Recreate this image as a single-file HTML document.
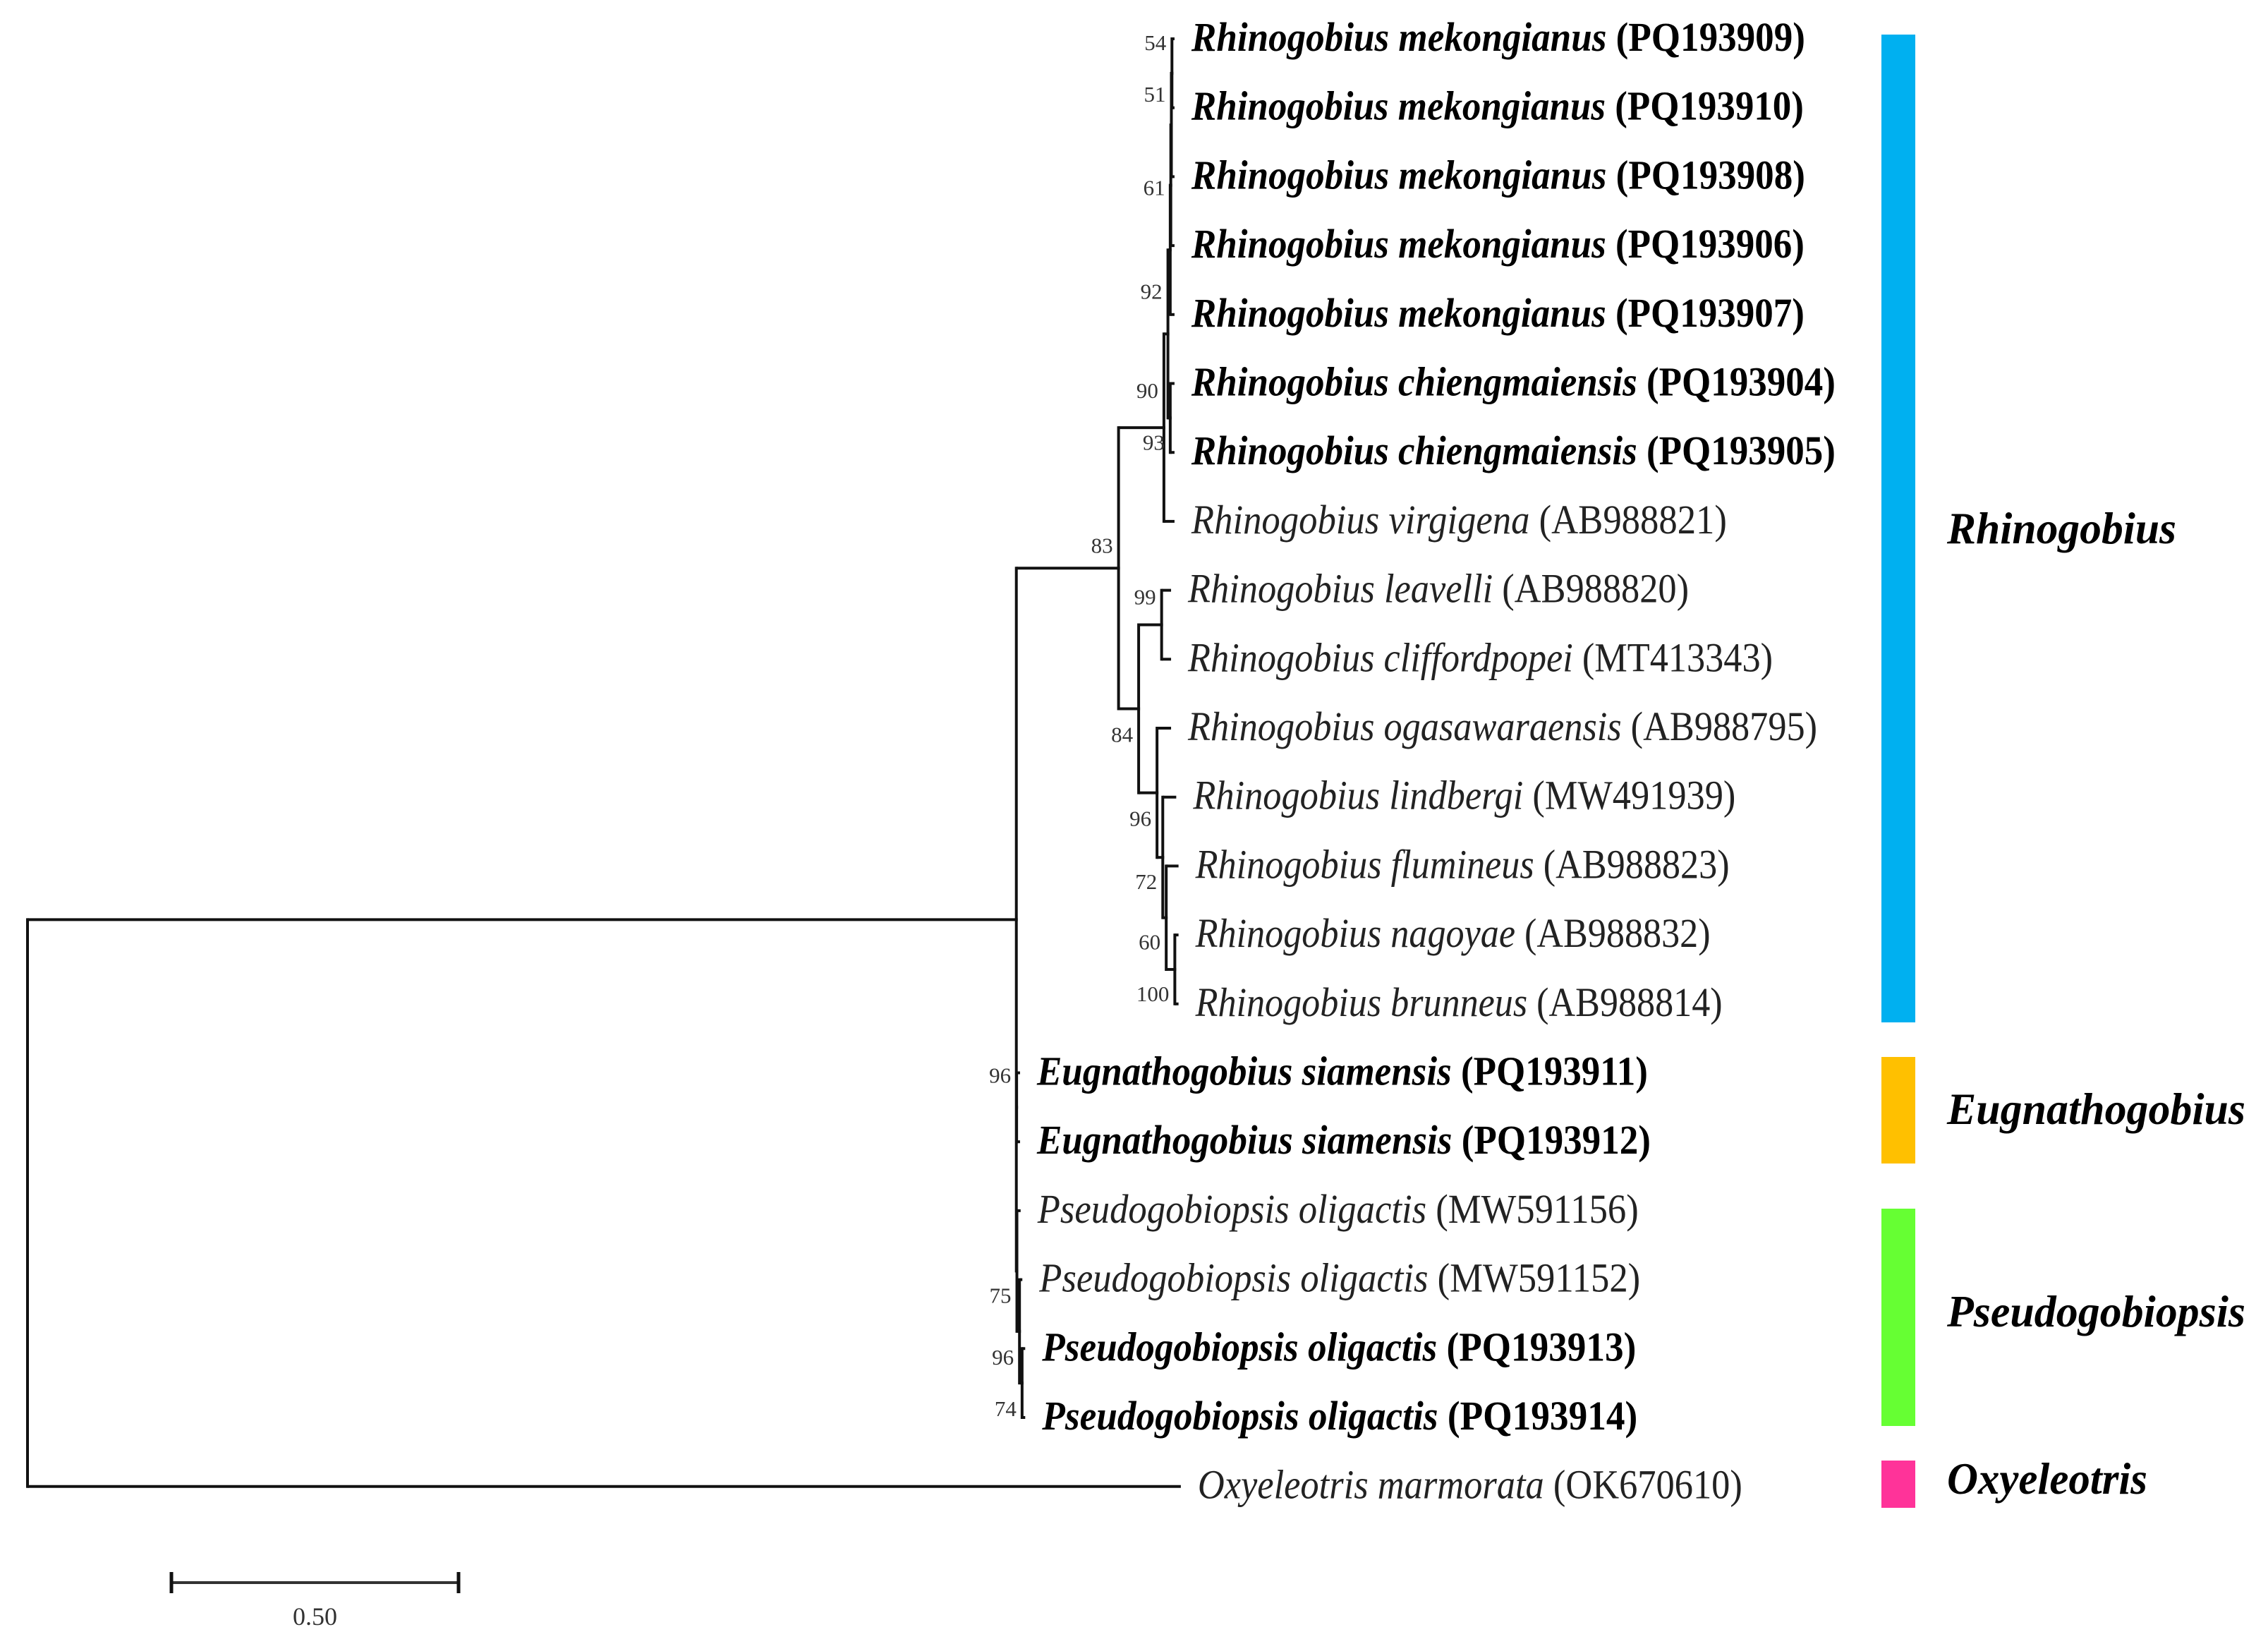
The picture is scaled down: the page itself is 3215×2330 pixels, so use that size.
<!DOCTYPE html>
<html><head><meta charset="utf-8"><style>
html,body{margin:0;padding:0;background:#fff;}
svg{display:block;}
text{font-family:"Liberation Serif","DejaVu Serif",serif;}
</style></head><body>
<svg id="chart" width="3215" height="2330" viewBox="0 0 3215 2330" xmlns="http://www.w3.org/2000/svg">
<g id="branches"></g>
<g id="boots"></g>
<g id="tips"></g>
<g id="groups"></g>
<g id="scalebar"></g>
</svg>
<script>
// ---- data ----
const tipSpecies = ["Rhinogobius mekongianus","Rhinogobius mekongianus","Rhinogobius mekongianus","Rhinogobius mekongianus","Rhinogobius mekongianus","Rhinogobius chiengmaiensis","Rhinogobius chiengmaiensis","Rhinogobius virgigena","Rhinogobius leavelli","Rhinogobius cliffordpopei","Rhinogobius ogasawaraensis","Rhinogobius lindbergi","Rhinogobius flumineus","Rhinogobius nagoyae","Rhinogobius brunneus","Eugnathogobius siamensis","Eugnathogobius siamensis","Pseudogobiopsis oligactis","Pseudogobiopsis oligactis","Pseudogobiopsis oligactis","Pseudogobiopsis oligactis","Oxyeleotris marmorata"];
const tipAccessions = ["PQ193909","PQ193910","PQ193908","PQ193906","PQ193907","PQ193904","PQ193905","AB988821","AB988820","MT413343","AB988795","MW491939","AB988823","AB988832","AB988814","PQ193911","PQ193912","MW591156","MW591152","PQ193913","PQ193914","OK670610"];
const tipBold = [1,1,1,1,1,1,1,0,0,0,0,0,0,0,0,1,1,0,0,1,1,0];
const nodeIds    = ["root","T","oxy","R","U","K","A4","A3","A2","A1","t0","t1","t2","t3","t4","C","t5","t6","t7","L","LC","t8","t9","M","t10","N","t11","O","t12","P","t13","t14","E","t15","t16","PS","t17","PS2","t18","PS3","t19","t20"];
const nodeParent = ["","root","root","T","R","U","K","A4","A3","A2","A1","A1","A2","A3","A4","K","C","C","U","R","L","LC","LC","L","M","M","N","N","O","O","P","P","T","E","E","T","PS","PS","PS2","PS2","PS3","PS3"];
const nodeDepth  = [0,1.722,2.006,1.900,1.979,1.986,1.990,1.991,1.992,1.993,1.995,1.995,1.995,1.995,1.995,1.990,1.995,1.995,1.995,1.935,1.975,1.989,1.989,1.967,1.989,1.977,1.998,1.983,2.002,1.998,2.002,2.002,1.7225,1.726,1.726,1.723,1.727,1.7275,1.730,1.732,1.735,1.735];
const nodeTip    = [-1,-1,21,-1,-1,-1,-1,-1,-1,-1,0,1,2,3,4,-1,5,6,7,-1,-1,8,9,-1,10,-1,11,-1,12,-1,13,14,-1,15,16,-1,17,-1,18,-1,19,20];
const nodeBoot   = ["","","","83","90","92","","61","51","54","","","","","","93","","","","84","99","","","96","","72","","60","","100","","","96","","","75","","96","","74","",""];
const groupNames = ["Rhinogobius","Eugnathogobius","Pseudogobiopsis","Oxyeleotris"];
const groupColors = ["#00b0f0","#ffc000","#66ff33","#ff3399"];
const scaleValue = 0.5;
const scaleLabel = "0.50";

// ---- styling / layout ----
const X0 = 39, PXU = 814, Y0 = 55, ROW = 97.7;
const labelWidths = [870,868,870,869,869,913,913,759,710,829,892,769,757,730,747,866,870,852,852,842,844,772];
const bootDy = {R:-22,U:-42,K:-50,A3:14,A2:-33,A1:-33,C:45,L:47,LC:-29,M:47,N:45,O:45,P:45,E:-35,PS:45,PS2:47,PS3:47};
const groupBar = [[49,1449],[1498,1649],[1713,2021],[2070,2137]];
const groupLabelW = [325,423,423,284];
const groupBaseline = [770,1593,1880,2117];
const NS="http://www.w3.org/2000/svg";
const sx = d => X0 + d*PXU;
const sy = i => Y0 + ROW*i;
function mk(tag, parent, attrs){const e=document.createElementNS(NS,tag);for(const k in attrs)e.setAttribute(k,attrs[k]);parent.appendChild(e);return e;}

const idx = {}; nodeIds.forEach((id,i)=>idx[id]=i);
const children = nodeIds.map(()=>[]);
nodeParent.forEach((p,i)=>{if(p!=="")children[idx[p]].push(i);});
const ny = new Array(nodeIds.length);
function calcY(i){ if(nodeTip[i]>=0){ny[i]=sy(nodeTip[i]);return ny[i];}
  const c=children[i].map(calcY); ny[i]=(c[0]+c[c.length-1])/2; return ny[i]; }
calcY(0);

const gB=document.getElementById('branches');
nodeIds.forEach((id,i)=>{
  const x=sx(nodeDepth[i]);
  if(children[i].length){
    const c=children[i];
    const v=mk('line',gB,{x1:x,x2:x,y1:ny[c[0]],y2:ny[c[c.length-1]],stroke:'#111','stroke-width':4,'stroke-linecap':'square'});
    
    
  }
  if(nodeParent[i]!==""){
    const px=sx(nodeDepth[idx[nodeParent[i]]]);
    const h=mk('line',gB,{x1:px,x2:x+2,y1:ny[i],y2:ny[i],stroke:'#111','stroke-width':4});
    
    
  }
});

const gBt=document.getElementById('boots');
nodeIds.forEach((id,i)=>{
  if(!nodeBoot[i])return;
  const x=sx(nodeDepth[i])-8;
  const dy = (id in bootDy)?bootDy[id]:18;
  const t=mk('text',gBt,{x:x,y:ny[i]+dy,'font-size':31,'text-anchor':'end',fill:'#333'});
  t.textContent=nodeBoot[i];
  
  
});

const gT=document.getElementById('tips');
nodeIds.forEach((id,i)=>{
  const k=nodeTip[i]; if(k<0)return;
  const x=sx(nodeDepth[i])+26;
  const t=mk('text',gT,{x:x,y:sy(k)+17,'font-size':58,fill:tipBold[k]?'#000':'#222','font-weight':tipBold[k]?'bold':'normal',textLength:labelWidths[k],lengthAdjust:'spacingAndGlyphs'});
  
  
  const s1=mk('tspan',t,{'font-style':'italic'}); s1.textContent=tipSpecies[k]+' ';
  const s2=mk('tspan',t,{}); s2.textContent='('+tipAccessions[k]+')';
});

const gG=document.getElementById('groups');
groupNames.forEach((g,i)=>{
  const r=mk('rect',gG,{x:2667,y:groupBar[i][0],width:48,height:groupBar[i][1]-groupBar[i][0],fill:groupColors[i]});
  
  
  const t=mk('text',gG,{x:2760,y:groupBaseline[i],'font-size':64,'font-weight':'bold','font-style':'italic',fill:'#000',textLength:groupLabelW[i],lengthAdjust:'spacingAndGlyphs'});
  t.textContent=g;
  
  
});

const gS=document.getElementById('scalebar');
const sx0=243, sx1=sx0+scaleValue*PXU, syb=2243;
const sl=mk('line',gS,{x1:sx0,x2:sx1,y1:syb,y2:syb,stroke:'#333','stroke-width':4});
 
[sx0,sx1].forEach((x,j)=>{const tk=mk('line',gS,{x1:x,x2:x,y1:syb-15,y2:syb+15,stroke:'#111','stroke-width':5});
   });
const st=mk('text',gS,{x:(sx0+sx1)/2,y:2303,'font-size':36,'text-anchor':'middle',fill:'#333'});
st.textContent=scaleLabel;
 
</script>
</body></html>
